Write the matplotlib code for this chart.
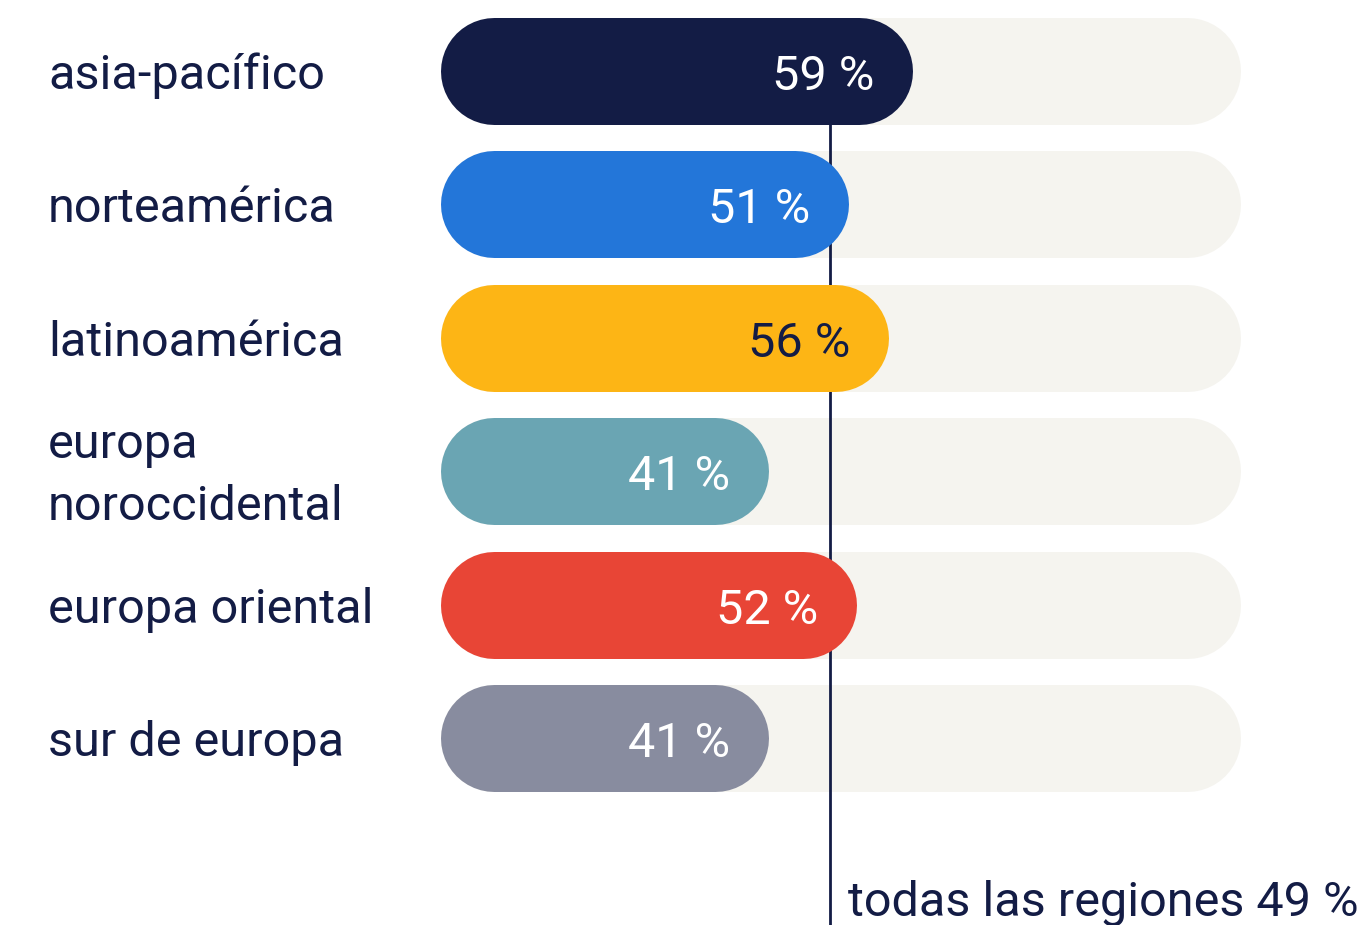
import matplotlib
matplotlib.use("Agg")
import matplotlib.pyplot as plt

regions = ["asia-pacífico", "norteamérica", "latinoamérica",
           "europa\nnoroccidental", "europa oriental", "sur de europa"]
values = [59, 51, 56, 41, 52, 41]
colors = ["#131c45", "#2376d9", "#fdb515", "#6aa5b3", "#e84536", "#888c9f"]
text_colors = ["white", "white", "#131c45", "white", "white", "white"]
overall = 49
overall_label = "todas las regiones 49 %"

plt.rcParams['font.family'] = ['Roboto', 'DejaVu Sans']
navy = "#131c45"
track = "#f5f4ef"

W, H = 1358, 925
fig = plt.figure(figsize=(W / 100, H / 100), dpi=100)
ax = fig.add_axes([0, 0, 1, 1])
ax.axis("off")

# pixel geometry: 0 % at x=440px, 100 % at x=1240px; rows every 133.5px
px_x = 8.0
px_y = 133.5
ax.set_xlim(-440 / px_x, (W - 440) / px_x)
ax.set_ylim((H - 70.5) / px_y, -70.5 / px_y)

bar_px = 107
r = bar_px / 2 / px_x
lw = bar_px * 72 / 100

for i, (name, v) in enumerate(zip(regions, values)):
    ax.plot([r, 100 - r], [i, i], color=track, lw=lw,
            solid_capstyle="round", zorder=1)
    ax.plot([r, v - r], [i, i], color=colors[i], lw=lw,
            solid_capstyle="round", zorder=3)
    ax.text(v - 38 / px_x, i + 0.045, f"{v} %", ha="right", va="center",
            fontsize=35, color=text_colors[i], zorder=4)
    ax.text(-392 / px_x, i + 0.04, name, ha="left", va="center",
            fontsize=35, color=navy, linespacing=1.45)

ax.plot([overall - 0.25, overall - 0.25], [0, ax.get_ylim()[0]],
        color=navy, lw=2, zorder=2, solid_capstyle="butt")
ax.text(overall + 2.0, 6.33, overall_label, ha="left", va="baseline",
        fontsize=35, color=navy)

fig.savefig("out.png", dpi=100, facecolor="white")
